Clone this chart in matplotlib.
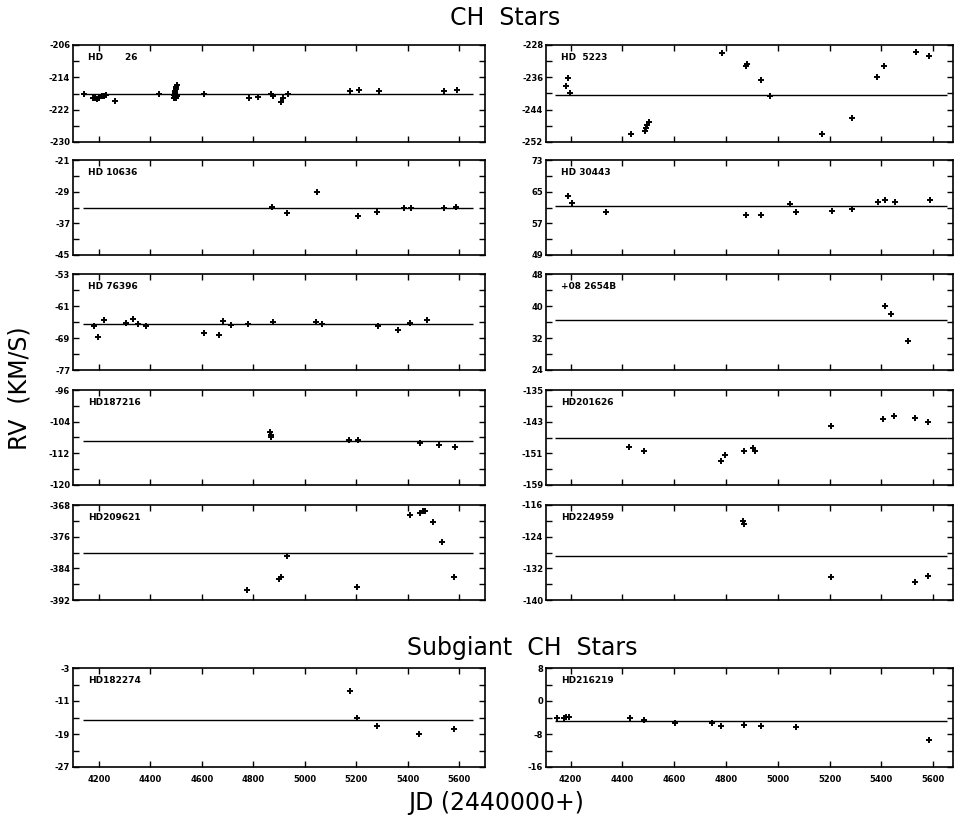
import numpy as np
import matplotlib.pyplot as plt

plt.rcParams['axes.unicode_minus'] = False

# JD - 2440000 and RV (km/s), one pair of lists per star
hd26_jd = [4142, 4176, 4185, 4193, 4200, 4213, 4222, 4230, 4265, 4433,
           4492, 4494, 4495, 4497, 4497, 4499, 4500, 4501, 4503, 4505,
           4608, 4783, 4820, 4870, 4878, 4906, 4915, 4936, 5175, 5211,
           5289, 5542, 5590]
hd26_rv = [-218.0, -219.0, -219.2, -219.3, -219.0, -218.6, -218.5, -218.4, -219.8, -218.2,
           -218.3, -219.0, -217.8, -217.3, -218.8, -216.8, -219.2, -216.4, -216.0, -218.6,
           -218.0, -219.1, -218.8, -218.2, -218.6, -220.1, -219.1, -218.0, -217.5, -217.1,
           -217.3, -217.5, -217.2]

hd5223_jd = [4182, 4191, 4197, 4432, 4487, 4491, 4496, 4502, 4783, 4877,
             4880, 4937, 4969, 5172, 5285, 5385, 5411, 5536, 5585]
hd5223_rv = [-238.1, -236.1, -239.8, -250.0, -249.2, -248.6, -247.9, -247.1, -230.0, -233.1,
             -232.6, -236.7, -240.6, -250.0, -246.0, -236.0, -233.1, -229.8, -230.8]

hd10636_jd = [4874, 4932, 5049, 5207, 5282, 5386, 5412, 5539, 5587]
hd10636_rv = [-32.8, -34.5, -29.0, -35.2, -34.1, -33.1, -33.1, -33.1, -32.8]

hd30443_jd = [4191, 4204, 4336, 4876, 4937, 5049, 5070, 5208, 5287, 5388,
              5413, 5452, 5587]
hd30443_rv = [63.8, 62.1, 59.9, 59.0, 59.2, 61.9, 59.9, 60.2, 60.6, 62.5,
              62.9, 62.5, 62.8]

hd76396_jd = [4181, 4197, 4219, 4306, 4333, 4353, 4384, 4608, 4668, 4682,
              4712, 4781, 4877, 5043, 5066, 5283, 5364, 5408, 5473]
hd76396_rv = [-66.0, -68.7, -64.6, -65.2, -64.3, -65.6, -66.1, -67.8, -68.2, -64.8,
              -65.7, -65.5, -65.0, -65.1, -65.6, -65.9, -66.9, -65.2, -64.6]

bd08_jd = [5413, 5436, 5504]
bd08_rv = [40.1, 38.1, 31.3]

hd187216_jd = [4865, 4867, 4870, 5170, 5206, 5449, 5523, 5583]
hd187216_rv = [-106.7, -107.4, -108.0, -108.6, -108.6, -109.3, -109.8, -110.4]

hd201626_jd = [4426, 4484, 4779, 4798, 4869, 4905, 4914, 5204, 5407, 5448,
               5532, 5581]
hd201626_rv = [-149.5, -150.4, -153.0, -151.4, -150.3, -149.6, -150.3, -144.1, -142.4, -141.5,
               -142.1, -143.0]

hd209621_jd = [4777, 4900, 4909, 4930, 5202, 5408, 5449, 5458, 5468, 5499,
               5533, 5581]
hd209621_rv = [-389.4, -386.6, -386.2, -381.0, -388.6, -370.4, -370.0, -369.6, -369.6, -372.4,
               -377.3, -386.2]

hd224959_jd = [4867, 4871, 5205, 5529, 5581]
hd224959_rv = [-120.0, -120.8, -134.2, -135.4, -134.0]

hd182274_jd = [5175, 5201, 5280, 5444, 5580]
hd182274_rv = [-8.5, -15.2, -17.0, -18.9, -17.9]

hd216219_jd = [4146, 4174, 4182, 4194, 4429, 4484, 4605, 4748, 4779, 4869,
               4935, 5069, 5583]
hd216219_rv = [-4.1, -4.2, -3.9, -3.8, -4.2, -4.6, -5.3, -5.3, -6.0, -5.7,
               -6.0, -6.4, -9.4]

# label, jd, rv, mean velocity, lower y limit
left_col = [
    ("HD       26", hd26_jd, hd26_rv, -218.1, -230),
    ("HD 10636", hd10636_jd, hd10636_rv, -33.0, -45),
    ("HD 76396", hd76396_jd, hd76396_rv, -65.6, -77),
    ("HD187216", hd187216_jd, hd187216_rv, -108.8, -120),
    ("HD209621", hd209621_jd, hd209621_rv, -380.2, -392),
    ("HD182274", hd182274_jd, hd182274_rv, -15.5, -27),
]
right_col = [
    ("HD  5223", hd5223_jd, hd5223_rv, -240.3, -252),
    ("HD 30443", hd30443_jd, hd30443_rv, 61.3, 49),
    ("+08 2654B", bd08_jd, bd08_rv, 36.5, 24),
    ("HD201626", hd201626_jd, hd201626_rv, -147.2, -159),
    ("HD224959", hd224959_jd, hd224959_rv, -128.8, -140),
    ("HD216219", hd216219_jd, hd216219_rv, -4.9, -16),
]

W, H = 956, 818
fig = plt.figure(figsize=(W / 100, H / 100), dpi=100)

# panel rows: (top, bottom) in pixels
rows = [(45, 142), (160, 255), (274, 370), (390, 485), (505, 600), (668, 767)]
cols = [(73, 485, (4100, 5700)), (546, 953, (4105, 5677))]


def panel(x0, x1, y0, y1, xlim, label, jd, rv, mean, ymin, last):
    ax = fig.add_axes([x0 / W, 1 - y1 / H, (x1 - x0) / W, (y1 - y0) / H])
    ax.plot(jd, rv, '+', color='black', ms=5, mew=1.4)
    ax.hlines(mean, 4140, 5655, color='black', lw=1.0)
    ax.set_xlim(*xlim)
    ax.set_ylim(ymin, ymin + 24)
    ax.set_xticks(np.arange(4200, 5601, 200))
    ax.set_yticks(np.arange(ymin, ymin + 25, 8))
    ax.set_yticks(np.arange(ymin + 4, ymin + 24, 8), minor=True)
    ax.tick_params(which='both', direction='in', top=True, right=True,
                   length=4, width=1.0, labelsize=6, pad=2)
    for t in ax.get_yticklabels():
        t.set_fontweight('bold')
    if last:
        ax.tick_params(axis='x', pad=6)
        for t in ax.get_xticklabels():
            t.set_fontweight('bold')
    else:
        ax.set_xticklabels([])
    for s in ax.spines.values():
        s.set_linewidth(1.2)
    ax.text(0.036, 0.87, label, transform=ax.transAxes, fontsize=6.5,
            fontweight='bold', va='center', ha='left')
    return ax


for ci, (x0, x1, xlim) in enumerate(cols):
    col = left_col if ci == 0 else right_col
    for ri, (label, jd, rv, mean, ymin) in enumerate(col):
        y0, y1 = rows[ri]
        panel(x0, x1, y0, y1, xlim, label, jd, rv, mean, ymin, ri == 5)

big = dict(ha='center', va='center', fontsize=17, color='black')
fig.text(505 / W, 1 - 18 / H, "CH  Stars", **big)
fig.text(522 / W, 1 - 648 / H, "Subgiant  CH  Stars", **big)
fig.text(496 / W, 1 - 803 / H, "JD (2440000+)", **big)
fig.text(20 / W, 1 - 388 / H, "RV  (KM/S)", rotation=90, **big)

fig.savefig("out.png", dpi=100)
